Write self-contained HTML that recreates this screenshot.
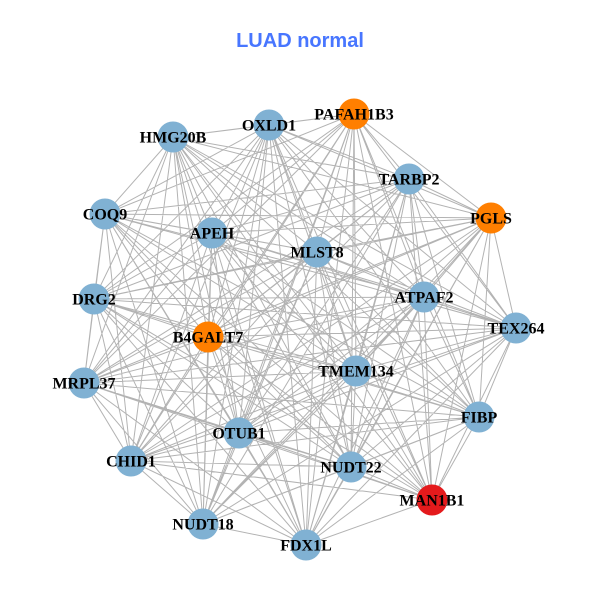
<!DOCTYPE html>
<html><head><meta charset="utf-8"><style>
html,body{margin:0;padding:0;background:#fff;}
svg{display:block;}
.l{font-family:"Liberation Serif",serif;font-weight:bold;font-size:16px;fill:#000;text-anchor:middle;}
</style></head><body>
<svg width="600" height="600" viewBox="0 0 600 600" xmlns="http://www.w3.org/2000/svg">
<rect width="600" height="600" fill="#fff"/>
<text x="300" y="47" text-anchor="middle" font-family="Liberation Sans, sans-serif" font-weight="bold" font-size="20" fill="#4876FF">LUAD normal</text>
<path fill="none" stroke="#b3b3b3" stroke-width="1" d="
M173 137L269 125M173 137L354 114M173 137L409 179M173 137L491 218M173 137L105 214M173 137L212 233M173 137L317 252M173 137L424 297M173 137L516 328M173 137L94 299M173 137L208 337M173 137L84 383M173 137L356 371M173 137L239 433M173 137L479 417M173 137L131 461M173 137L351 467M173 137L432 500M173 137L203 524M173 137L306 545
M269 125L354 114M269 125L409 179M269 125L491 218M269 125L105 214M269 125L212 233M269 125L317 252M269 125L424 297M269 125L516 328M269 125L94 299M269 125L208 337M269 125L84 383M269 125L356 371M269 125L239 433M269 125L479 417M269 125L131 461M269 125L351 467M269 125L432 500M269 125L203 524M269 125L306 545
M354 114L409 179M354 114L491 218M354 114L105 214M354 114L212 233M354 114L317 252M354 114L424 297M354 114L516 328M354 114L94 299M354 114L208 337M354 114L84 383M354 114L356 371M354 114L239 433M354 114L479 417M354 114L131 461M354 114L351 467M354 114L432 500M354 114L203 524M354 114L306 545
M409 179L491 218M409 179L105 214M409 179L212 233M409 179L317 252M409 179L424 297M409 179L516 328M409 179L94 299M409 179L208 337M409 179L84 383M409 179L356 371M409 179L239 433M409 179L479 417M409 179L131 461M409 179L351 467M409 179L432 500M409 179L203 524M409 179L306 545
M491 218L105 214M491 218L212 233M491 218L317 252M491 218L424 297M491 218L516 328M491 218L94 299M491 218L208 337M491 218L84 383M491 218L356 371M491 218L239 433M491 218L479 417M491 218L131 461M491 218L351 467M491 218L432 500M491 218L203 524M491 218L306 545
M105 214L212 233M105 214L317 252M105 214L424 297M105 214L516 328M105 214L94 299M105 214L208 337M105 214L84 383M105 214L356 371M105 214L239 433M105 214L479 417M105 214L131 461M105 214L351 467M105 214L432 500M105 214L203 524M105 214L306 545
M212 233L317 252M212 233L424 297M212 233L516 328M212 233L94 299M212 233L208 337M212 233L84 383M212 233L356 371M212 233L239 433M212 233L479 417M212 233L131 461M212 233L351 467M212 233L432 500M212 233L203 524M212 233L306 545
M317 252L424 297M317 252L516 328M317 252L94 299M317 252L208 337M317 252L84 383M317 252L356 371M317 252L239 433M317 252L479 417M317 252L131 461M317 252L351 467M317 252L432 500M317 252L203 524M317 252L306 545
M424 297L516 328M424 297L94 299M424 297L208 337M424 297L84 383M424 297L356 371M424 297L239 433M424 297L479 417M424 297L131 461M424 297L351 467M424 297L432 500M424 297L203 524M424 297L306 545
M516 328L94 299M516 328L208 337M516 328L84 383M516 328L356 371M516 328L239 433M516 328L479 417M516 328L131 461M516 328L351 467M516 328L432 500M516 328L203 524M516 328L306 545
M94 299L208 337M94 299L84 383M94 299L356 371M94 299L239 433M94 299L479 417M94 299L131 461M94 299L351 467M94 299L432 500M94 299L203 524M94 299L306 545
M208 337L84 383M208 337L356 371M208 337L239 433M208 337L479 417M208 337L131 461M208 337L351 467M208 337L432 500M208 337L203 524M208 337L306 545
M84 383L356 371M84 383L239 433M84 383L479 417M84 383L131 461M84 383L351 467M84 383L432 500M84 383L203 524M84 383L306 545
M356 371L239 433M356 371L479 417M356 371L131 461M356 371L351 467M356 371L432 500M356 371L203 524M356 371L306 545
M239 433L479 417M239 433L131 461M239 433L351 467M239 433L432 500M239 433L203 524M239 433L306 545
M479 417L131 461M479 417L351 467M479 417L432 500M479 417L203 524M479 417L306 545
M131 461L351 467M131 461L432 500M131 461L203 524M131 461L306 545
M351 467L432 500M351 467L203 524M351 467L306 545
M432 500L306 545
M203 524L306 545"/>
<g>
<circle cx="173" cy="137" r="15.5" fill="#80B1D3"/>
<circle cx="269" cy="125" r="15.5" fill="#80B1D3"/>
<circle cx="354" cy="114" r="15.5" fill="#FF7F00"/>
<circle cx="409" cy="179" r="15.5" fill="#80B1D3"/>
<circle cx="491" cy="218" r="15.5" fill="#FF7F00"/>
<circle cx="105" cy="214" r="15.5" fill="#80B1D3"/>
<circle cx="212" cy="233" r="15.5" fill="#80B1D3"/>
<circle cx="317" cy="252" r="15.5" fill="#80B1D3"/>
<circle cx="424" cy="297" r="15.5" fill="#80B1D3"/>
<circle cx="516" cy="328" r="15.5" fill="#80B1D3"/>
<circle cx="94" cy="299" r="15.5" fill="#80B1D3"/>
<circle cx="208" cy="337" r="15.5" fill="#FF7F00"/>
<circle cx="84" cy="383" r="15.5" fill="#80B1D3"/>
<circle cx="356" cy="371" r="15.5" fill="#80B1D3"/>
<circle cx="239" cy="433" r="15.5" fill="#80B1D3"/>
<circle cx="479" cy="417" r="15.5" fill="#80B1D3"/>
<circle cx="131" cy="461" r="15.5" fill="#80B1D3"/>
<circle cx="351" cy="467" r="15.5" fill="#80B1D3"/>
<circle cx="432" cy="500" r="15.5" fill="#E41A1C"/>
<circle cx="203" cy="524" r="15.5" fill="#80B1D3"/>
<circle cx="306" cy="545" r="15.5" fill="#80B1D3"/>
</g>
<g>
<text class="l" x="173" y="142.5">HMG20B</text>
<text class="l" x="269" y="130.5">OXLD1</text>
<text class="l" x="354" y="119.5">PAFAH1B3</text>
<text class="l" x="409" y="184.5">TARBP2</text>
<text class="l" x="491" y="223.5">PGLS</text>
<text class="l" x="105" y="219.5">COQ9</text>
<text class="l" x="212" y="238.5">APEH</text>
<text class="l" x="317" y="257.5">MLST8</text>
<text class="l" x="424" y="302.5">ATPAF2</text>
<text class="l" x="516" y="333.5">TEX264</text>
<text class="l" x="94" y="304.5">DRG2</text>
<text class="l" x="208" y="342.5">B4GALT7</text>
<text class="l" x="84" y="388.5">MRPL37</text>
<text class="l" x="356" y="376.5">TMEM134</text>
<text class="l" x="239" y="438.5">OTUB1</text>
<text class="l" x="479" y="422.5">FIBP</text>
<text class="l" x="131" y="466.5">CHID1</text>
<text class="l" x="351" y="472.5">NUDT22</text>
<text class="l" x="432" y="505.5">MAN1B1</text>
<text class="l" x="203" y="529.5">NUDT18</text>
<text class="l" x="306" y="550.5">FDX1L</text>
</g>
</svg>
</body></html>
